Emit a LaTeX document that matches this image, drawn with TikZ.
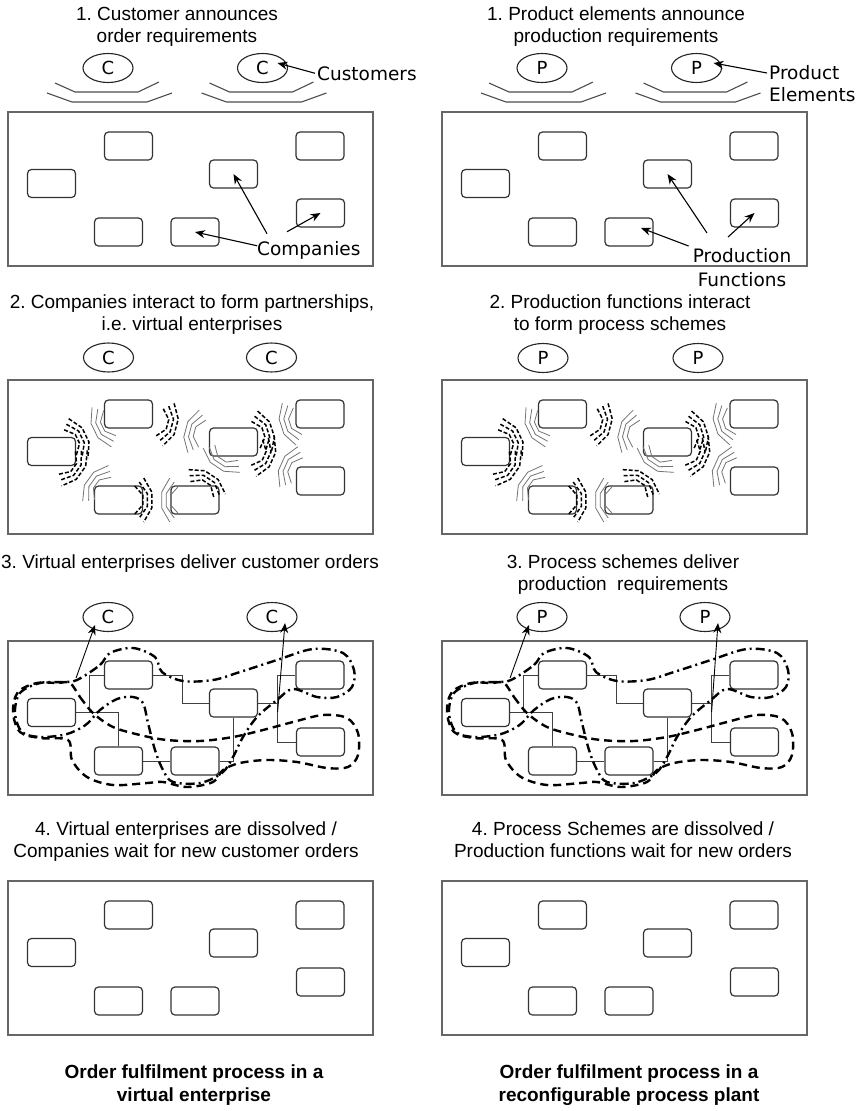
\documentclass[tikz,border=0pt]{standalone}
\usepackage{fontspec}
\setmainfont{Liberation Sans}
\newfontfamily\labelfont{DejaVu Sans}
\usetikzlibrary{arrows.meta,calc,shapes.geometric}
\frenchspacing

\tikzset{
  % double tray under a customer / product element
  pics/tray/.style={code={
    \draw[tray] (-53,15) -- (-33,24) -- (30,24) -- (51,14);
    \draw[tray] (-61,25) -- (-36,34) -- (39,34) -- (64,25);
  }},
  % three nested brackets, bulging towards +x
  pics/ripple/.style={code={
    \foreach \i in {0,1,2}
      \draw[#1] ({4.5*\i-13},{-14-4*\i}) -- ({4.5*\i-5},{-5-1.5*\i}) -- ({4.5*\i-5},{5+1.5*\i}) -- ({4.5*\i-13},{14+4*\i});
  }},
}

\begin{document}
\begin{tikzpicture}[x=1pt, y=-1pt,
  every node/.style={inner sep=0pt, font=\fontsize{19}{22}\selectfont},
  frame/.style={draw=black!60, line width=1.5pt},
  unit/.style={draw=black!80, line width=1.2pt, rounded corners=4pt, minimum width=48pt, minimum height=28pt},
  client/.style={draw=black!85, line width=1.1pt, ellipse, minimum width=50pt, minimum height=29pt, font=\labelfont\fontsize{18}{18}\selectfont},
  heading/.style={align=center, anchor=north},
  callout/.style={font=\labelfont\fontsize{18.5}{22}\selectfont},
  tray/.style={draw=black!70, line width=1.1pt},
  pointer/.style={line width=1.1pt, -{Stealth[length=10pt, width=8pt]}},
  link/.style={draw=black!75, line width=0.9pt},
  signal/.style={black, line width=1.5pt, dash pattern=on 4pt off 2pt},
  echo/.style={black!55, line width=0.8pt},
  venture/.style={line width=2.4pt, dash pattern=on 9pt off 4pt on 2pt off 4pt},
  team/.style={line width=2.4pt, dash pattern=on 8pt off 5pt}]

\useasboundingbox (0,0) rectangle (863,1111);

% four stages, companies left and production functions right
\foreach \s/\px in {L/8, R/442}
  \foreach \k/\py in {1/112, 2/380, 3/641, 4/881} {
    \draw[frame] (\px,\py) rectangle ++(365,154);
    \foreach \b/\bx/\by in {a/120.5/34, b/43.5/71.5, c/225.5/62, d/312/34, e/312.5/101, f/110.5/120, g/187/120}
      \node[unit] (\s\k\b) at (\px+\bx,\py+\by) {};
  }

% stage 1
\node[heading] (h1l) at (177,7) {1. Customer announces\\order requirements};
\node[heading] (h1r) at (616,7) {1. Product elements announce\\production requirements};
\foreach \s/\px/\t in {L/8/C, R/442/P} {
  \node[client] (\s1x1) at (\px+100,68) {\t};
  \node[client] (\s1x2) at (\px+254.5,68) {\t};
  \pic at (\s1x1) {tray};
  \pic at (\s1x2) {tray};
}
\node[callout, anchor=base west] (cust) at (317,80) {Customers};
\node[callout, anchor=base west] (comp) at (257,255) {Companies};
\node[callout, anchor=north west, align=left] (elem) at (769,65) {Product\\Elements};
\node[callout, anchor=north, align=center, font=\labelfont\fontsize{18.5}{24}\selectfont] (func) at (742,248) {Production\\Functions};
\draw[pointer] ($(cust.west)+(-2,0)$) -- ($(L1x2)+(15,-5)$);
\draw[pointer] ($(comp.north west)+(10,-7)$) -- (L1c.center);
\draw[pointer] ($(comp.north west)+(30,-9)$) -- (L1e.center);
\draw[pointer] ($(comp.north west)+(0,5)$) -- (L1g.center);
\draw[pointer] ($(elem.north west)+(-2,8)$) -- ($(R1x2)+(17,-5)$);
\draw[pointer] ($(func.north)+(-35,-15)$) -- (R1c.center);
\draw[pointer] ($(func.north)+(-14,-11)$) -- (R1e.center);
\draw[pointer] ($(func.north west)+(-4,-2)$) -- ($(R1g)+(12,-4)$);

% stage 2
\node[heading] (h2l) at (192,295) {2. Companies interact to form partnerships,\\i.e. virtual enterprises};
\node[heading] (h2r) at (620,295) {2. Production functions interact\\to form process schemes};
\node[client] (L2x1) at (108.5,357.5) {C};
\node[client] (L2x2) at (271.5,357.5) {C};
\node[client] (R2x1) at (543,358) {P};
\node[client] (R2x2) at (698,358) {P};
\foreach \s in {L,R}
  \foreach \u/\v in {b/a, a/c, b/f, f/g, g/c, c/d, c/e} {
    \coordinate (mid) at ($(\s2\u)!0.5!(\s2\v)$);
    \path let \p1 = ($(\s2\v)-(\s2\u)$), \n1 = {atan2(\y1,\x1)} in
      pic[rotate=\n1] at ($(mid)!9pt!(\s2\u)$) {ripple=signal}
      pic[rotate=\n1+180] at ($(mid)!9pt!(\s2\v)$) {ripple=echo};
  }

% stage 3
\node[heading] (h3l) at (190,555) {3. Virtual enterprises deliver customer orders};
\node[heading] (h3r) at (623,555) {3. Process schemes deliver\\production~ requirements};
\node[client] (L3x1) at (108,617) {C};
\node[client] (L3x2) at (272,617) {C};
\node[client] (R3x1) at (542,617) {P};
\node[client] (R3x2) at (705,617) {P};
\foreach \s/\px in {L/8, R/442} {
  \draw[link] (\s3b.east) -- ++(13.5,0) |- (\s3a.west);
  \draw[link] (\s3b.east) -| (\s3f.north);
  \draw[link] (\s3a.east) -- ++(29,0) |- (\s3c.west);
  \draw[link] (\s3c.east) -- ++(19.5,0) |- (\s3d.west);
  \draw[link] (\s3c.east) -- ++(19.5,0) |- (\s3e.west);
  \draw[link] (\s3c.south) |- (\s3g.east);
  \draw[link] (\s3f) -- (\s3g);
  \draw[venture, shift={(\px,641)}] plot[smooth cycle, tension=0.55] coordinates {
    (69,39) (92,24) (102,12) (125,7) (147,16) (154,31) (175,40) (205,39) (232,31)
    (269,19) (305,8) (335,12) (346,29) (344,46) (329,56) (309,56) (285,48) (269,59)
    (249,76) (235,96) (225,116) (214,132) (192,142) (165,141) (155,129) (147,109)
    (140,82) (135,62) (125,56) (109,58) (92,69) (80,82) (69,89) (55,94) (32,96)
    (14,91) (7,72) (12,52) (32,42) (55,41)};
  \draw[team, shift={(\px,641)}] plot[smooth cycle, tension=0.55] coordinates {
    (62,42) (72,56) (85,72) (105,86) (132,94) (159,99) (192,100) (225,96) (255,89)
    (285,81) (315,74) (339,77) (350,92) (350,114) (340,126) (319,127) (289,121)
    (259,119) (232,122) (215,129) (205,141) (179,146) (155,141) (139,142) (105,144)
    (79,136) (64,119) (60,99) (32,97) (12,91) (5,71) (10,51) (29,42) (49,42)};
  \coordinate (\s3o1) at ($(\s3b.north east)+(0,-20)$);
  \coordinate (\s3o2) at ($(\s3c.east)+(19.5,9)$);
  \draw[pointer, line width=0.9pt] (\s3o1) -- ($(\s3x1)+(-13,8)$);
  \draw[pointer, line width=0.9pt] (\s3o2) -- ($(\s3x2)+(13,6)$);
}

% stage 4
\node[heading] (h4l) at (186,822) {4. Virtual enterprises are dissolved /\\Companies wait for new customer orders};
\node[heading] (h4r) at (623,822) {4. Process Schemes are dissolved /\\Production functions wait for new orders};

% captions
\node[heading, font=\bfseries\fontsize{19}{23}\selectfont] (capl) at (194,1065) {Order fulfilment process in a\\virtual enterprise};
\node[heading, font=\bfseries\fontsize{19}{23}\selectfont] (capr) at (629,1065) {Order fulfilment process in a\\reconfigurable process plant};
\end{tikzpicture}
\end{document}
